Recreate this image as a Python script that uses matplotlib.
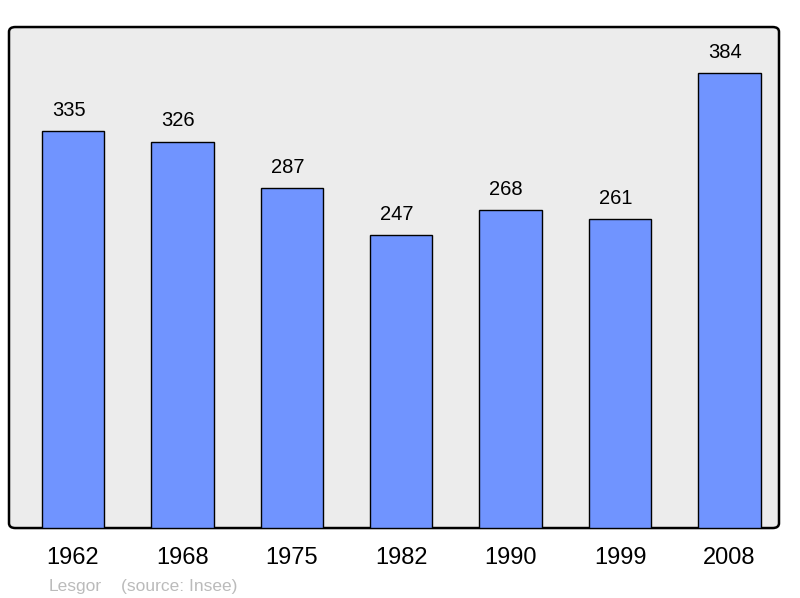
import matplotlib.pyplot as plt
from matplotlib.patches import FancyBboxPatch

# Population data
years = ["1962", "1968", "1975", "1982", "1990", "1999", "2008"]
population = [335, 326, 287, 247, 268, 261, 384]

plt.rcParams["font.family"] = ["Liberation Sans", "DejaVu Sans"]

fig = plt.figure(figsize=(8, 5.98), dpi=100)
ax = fig.add_axes([0.01125, 0.117, 0.9625, 0.8378])
ax.set_facecolor("none")

# rounded frame behind the axes
frame = FancyBboxPatch((0.01125, 0.117), 0.9625, 0.8378,
                       boxstyle="round,pad=0,rounding_size=0.008",
                       transform=fig.transFigure, facecolor="#ececec",
                       edgecolor="black", linewidth=1.8, zorder=-1)
fig.patches.append(frame)

x = range(len(years))
ax.bar(x, population, width=0.57, color="#7094ff", edgecolor="black",
       linewidth=1.0, zorder=2)
for xi, v in zip(x, population):
    ax.text(xi - 0.04, v + 9.5, str(v), ha="center", va="bottom", fontsize=14.5)

ax.set_xlim(-0.585, 6.453)
ax.set_ylim(0, 422.8)
ax.set_xticks(list(x))
ax.set_xticklabels(years, fontsize=17)
ax.tick_params(axis="x", length=0, pad=14)
ax.set_yticks([])
for s in ax.spines.values():
    s.set_visible(False)

fig.text(49 / 800, 1 - 586 / 598, "Lesgor", color="#bbbbbb", fontsize=12.5,
         va="center", ha="left")
fig.text(121 / 800, 1 - 586 / 598, "(source: Insee)", color="#bbbbbb",
         fontsize=12.5, va="center", ha="left")

fig.savefig("out.png", dpi=100)
